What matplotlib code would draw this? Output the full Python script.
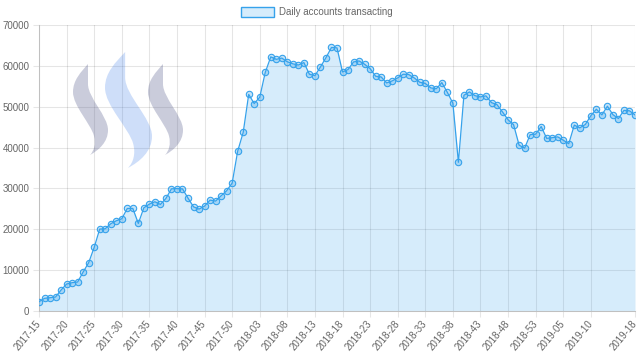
import matplotlib
matplotlib.use("Agg")
import matplotlib.pyplot as plt
from matplotlib.path import Path
from matplotlib.patches import PathPatch, Rectangle
from matplotlib.transforms import Affine2D

plt.rcParams['font.family'] = ['Liberation Sans', 'DejaVu Sans']

# ---- data ----
weeks = ([f"2017-{w:02d}" for w in range(15, 53)]
         + [f"2018-{w:02d}" for w in range(1, 54)]
         + [f"2019-{w:02d}" for w in range(1, 19)])

daily_accounts = [
    2270, 3100, 3250, 3420, 5130, 6600, 6930, 7090, 9540, 11820,
    15570, 20050, 20130, 21350, 22080, 22570, 25100, 25100, 21440, 25260,
    26160, 26730, 26080, 27550, 29900, 29950, 29900, 27630, 25500, 24940,
    25670, 27140, 26900, 28200, 29420, 31300, 39100, 43700, 53000, 50780,
    52320, 58400, 62200, 61600, 61900, 61000, 60500, 60200, 60800, 57950,
    57600, 59740, 62000, 64500, 64400, 58500, 59100, 60960, 61200, 60390,
    59330, 57460, 57290, 55820, 56310, 57050, 57950, 57870, 57050, 55990,
    55700, 54600, 54400, 55900, 53500, 50850, 36400, 52810, 53620, 52700,
    52400, 52650, 51000, 50500, 48700, 46800, 45600, 40590, 39850, 43150,
    43280, 45150, 42250, 42420, 42620, 41810, 40950, 45500, 44820, 45650,
    47800, 49390, 48000, 50120, 48050, 47110, 49100, 49000, 48000,
]

y_ticks = [0, 10000, 20000, 30000, 40000, 50000, 60000, 70000]
legend_label = "Daily accounts transacting"

# ---- style ----
W, H = 640, 361
line_color = '#36a2eb'
fill_color = (54/255, 162/255, 235/255, 0.2)
text_color = '#666666'
fs = 7

fig = plt.figure(figsize=(W/100, H/100), dpi=100)
left, right, top, bottom = 39, 635, 25, 311
ax = fig.add_axes([left/W, 1 - bottom/H, (right-left)/W, (bottom-top)/H])

x = list(range(len(daily_accounts)))
ax.fill_between(x, daily_accounts, 0, color=fill_color, linewidth=0, zorder=2)
ax.plot(x, daily_accounts, color=line_color, linewidth=0.9, zorder=3,
        marker='o', markersize=4.6, markerfacecolor=(54/255, 162/255, 235/255, 0.3),
        markeredgecolor=line_color, markeredgewidth=0.8)

ax.set_xlim(0, len(daily_accounts) - 1)
ax.set_ylim(0, 70000)

tick_idx = list(range(0, 101, 5)) + [len(weeks) - 1]
ax.set_xticks(tick_idx)
ax.set_xticklabels([weeks[i] for i in tick_idx], rotation=50, ha='right',
                   va='center', rotation_mode='anchor', fontsize=fs,
                   color=text_color)
ax.set_yticks(y_ticks)
ax.set_yticklabels([str(v) for v in y_ticks], fontsize=fs, color=text_color)

ax.grid(True, color='black', alpha=0.1, linewidth=0.75, zorder=1)
ax.set_axisbelow(True)
ax.tick_params(axis='both', length=4, width=0.75, color='#e6e6e6', pad=3)
ax.tick_params(axis='x', pad=4)
for s in ['top', 'right']:
    ax.spines[s].set_visible(False)
for s in ['left', 'bottom']:
    ax.spines[s].set_color('#c0c0c0')
    ax.spines[s].set_linewidth(0.75)

# ---- Steem logo watermark (decoration) ----
def swoosh(x0, y0, sx, sy, color):
    pts = [(15, 0),
           (8, 8), (0, 16), (0, 28),
           (0, 42), (18, 60), (21, 72),
           (23, 80), (21, 87), (17, 91),
           (26, 86), (35, 78), (35, 66),
           (35, 52), (15, 34), (15, 20),
           (15, 12), (15, 5), (15, 0),
           (15, 0)]
    codes = ([Path.MOVETO] + [Path.CURVE4] * 18 + [Path.CLOSEPOLY])
    verts = [(x0 + px * sx, y0 + py * sy) for px, py in pts]
    tr = Affine2D().scale(1/W, -1/H).translate(0, 1) + fig.transFigure
    patch = PathPatch(Path(verts, codes), facecolor=color, edgecolor='none',
                      transform=tr, zorder=1)
    fig.add_artist(patch)

gray = (91/255, 97/255, 144/255, 0.32)
blue = (61/255, 125/255, 232/255, 0.25)
swoosh(73, 64, 1.0, 1.0, gray)
swoosh(105, 52, 47/35, 116/91, blue)
swoosh(148, 64, 1.0, 1.0, gray)

# ---- legend ----
tr_px = Affine2D().scale(1/W, -1/H).translate(0, 1) + fig.transFigure
fig.add_artist(Rectangle((241, 7), 33, 10, facecolor=fill_color,
                         edgecolor=line_color, linewidth=1.0, transform=tr_px))
fig.text(279/W, 1 - 12/H, legend_label, fontsize=fs, color=text_color,
         ha='left', va='center')

fig.savefig('out.png', dpi=100)
